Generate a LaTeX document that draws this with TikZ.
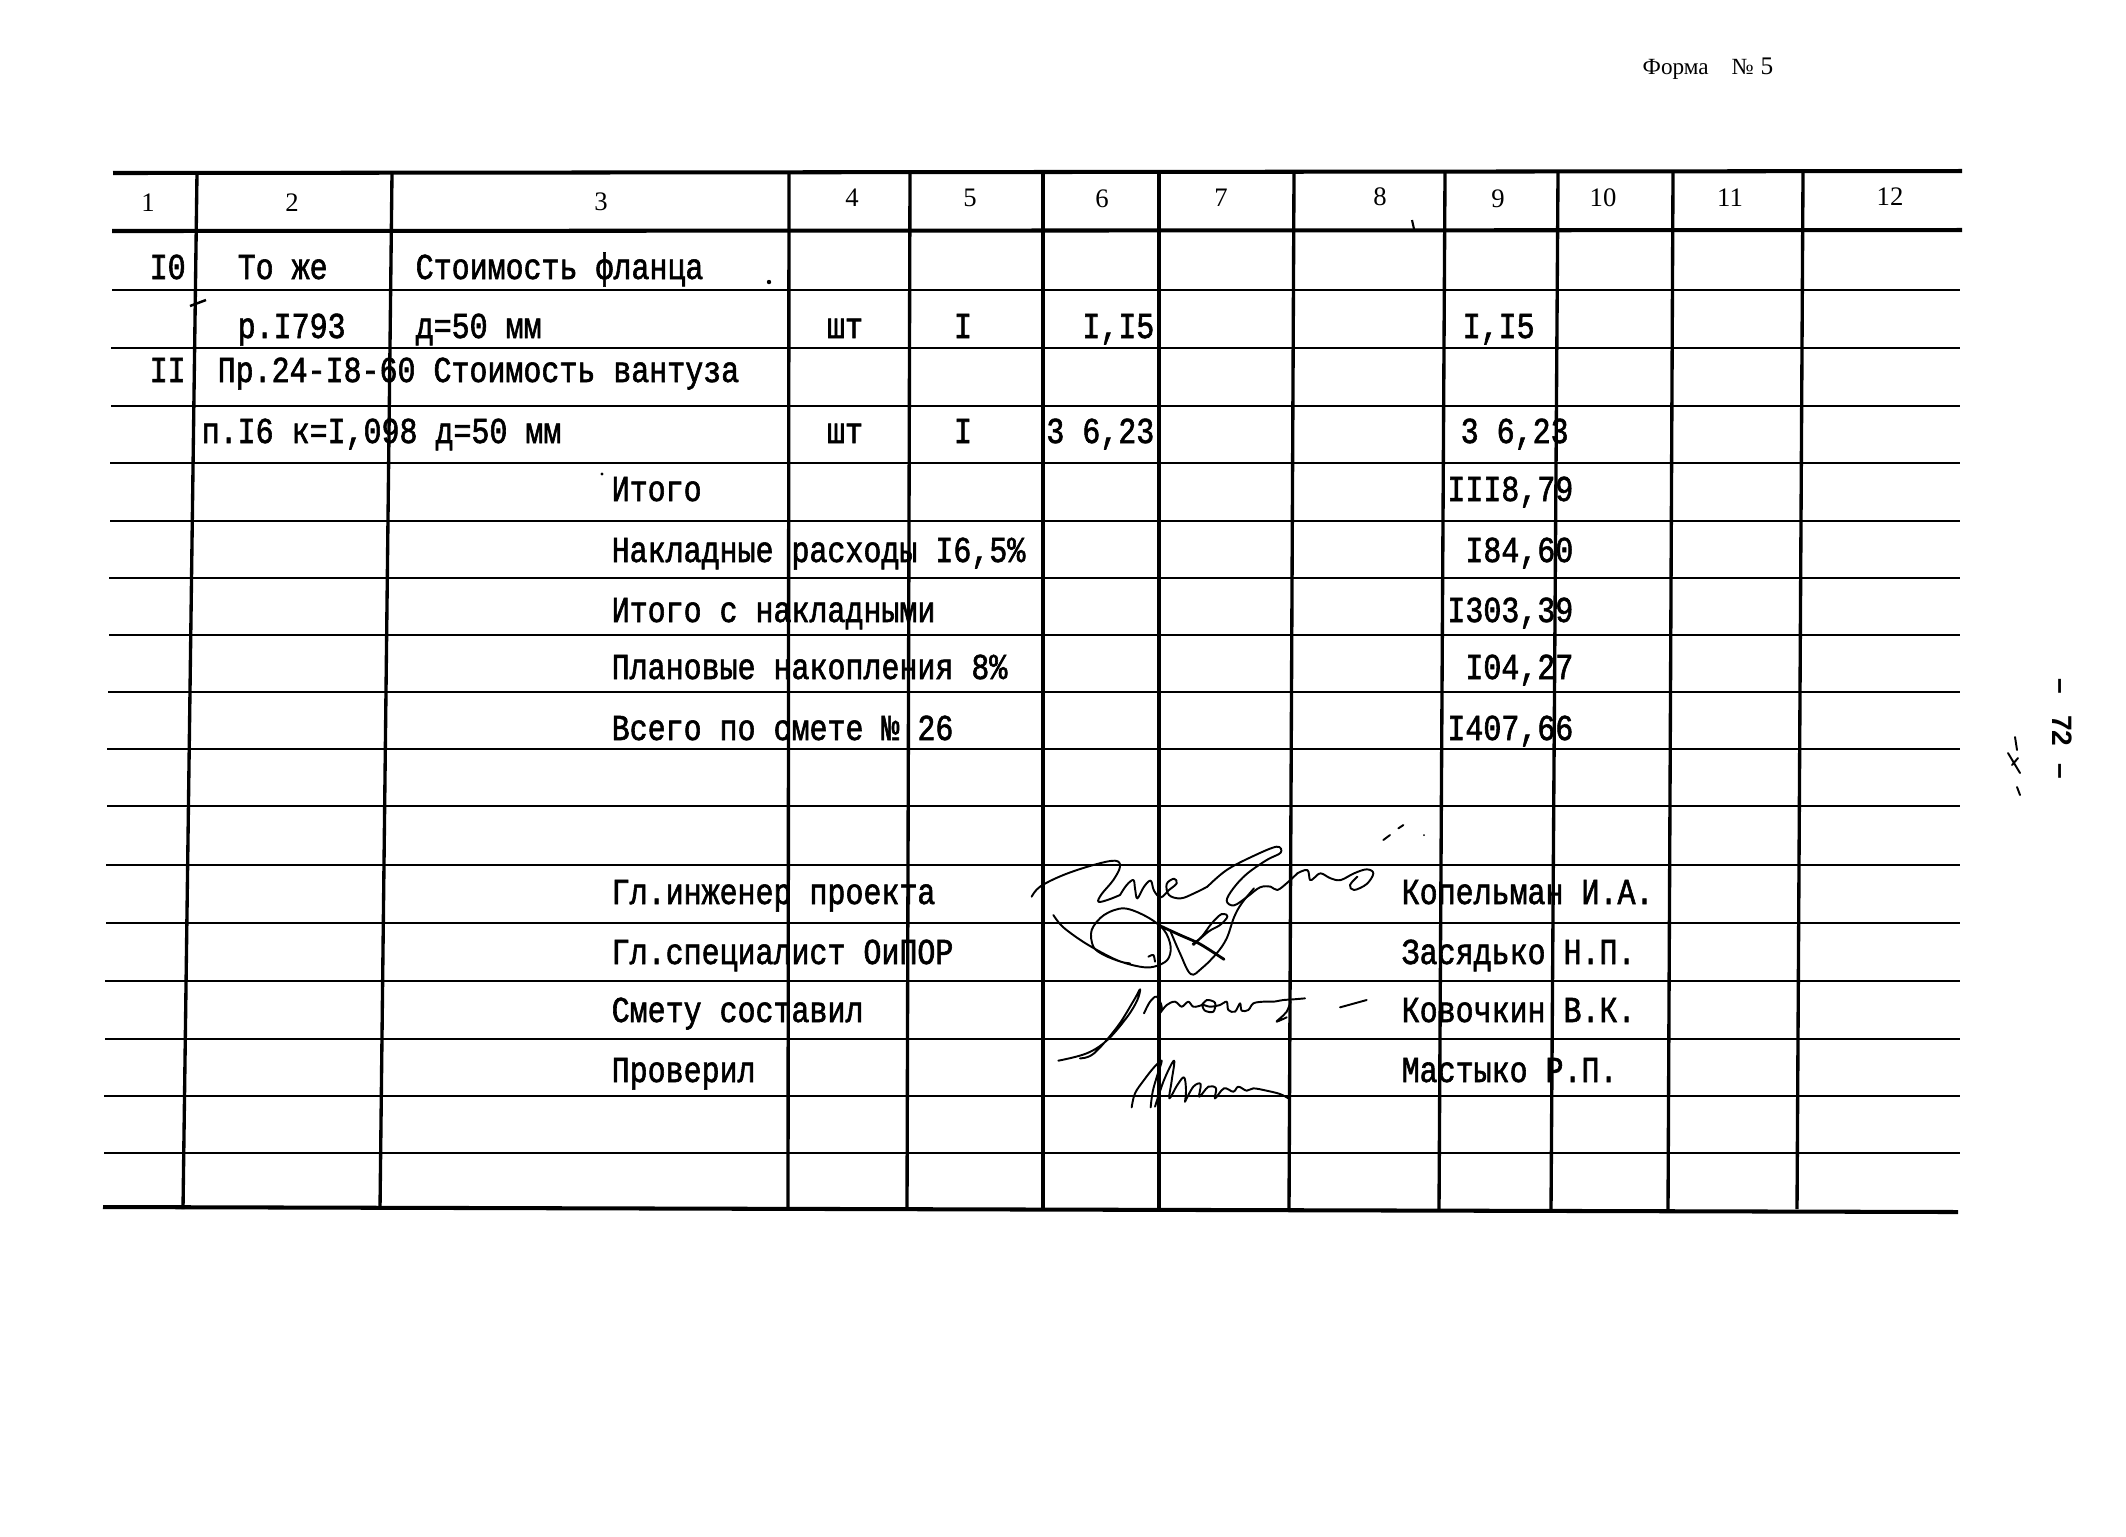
\documentclass[tikz,border=0pt]{standalone}
\usepackage{fontspec}
\setmainfont{Liberation Serif}
\newfontfamily\twfam[FakeStretch=0.82,FakeBold=1.6]{Liberation Mono}
\newfontfamily\pnfam{Liberation Sans}
\newcommand\twfont{\twfam\fontsize{10.4pt}{12pt}\selectfont}
\newcommand\hdfont{\fontsize{7.6pt}{8pt}\selectfont}
\begin{document}
\begin{tikzpicture}[x=0.1mm,y=-0.1mm,
  hrule/.style={line width=0.72pt},
  hrulethick/.style={line width=1.15pt},
  vrule/.style={line width=0.95pt},
  tw/.style={font=\twfont, inner sep=0pt, anchor=base west},
  twr/.style={tw, anchor=base east},
  twc/.style={tw, anchor=base},
  hd/.style={font=\hdfont, inner sep=0pt, anchor=base},
  sig/.style={line width=0.55pt, line cap=round, line join=round}]
\useasboundingbox[fill=white] (0,0) rectangle (2126,1536);

% horizontal rules
\draw[hrulethick] (113,173) -- (1962,171);
\draw[hrulethick] (112,231) -- (1962,230);
\foreach \yy/\xl in {290/112,348/111,406/111,463/110,521/110,578/109,635/109,692/108,749/107,806/107,865/106,923/106,981/105,1039/105,1096/104,1153/104}
  \draw[hrule] (\xl,\yy) -- (1960,\yy);
\draw[hrulethick] (103,1207) -- (1958,1212);

% vertical rules
\foreach \xt/\xb in {197/183,392/380,789/788,910/907,1043/1043,1159/1159,1294/1289,1445/1439,1558/1551,1673/1668,1803/1797}
  \draw[vrule] (\xt,173) -- (\xb,1209);

% header numbers
\node[hd] (h1) at (148,211) {1};
\node[hd] (h2) at (292,211) {2};
\node[hd] (h3) at (601,210) {3};
\node[hd] (h4) at (852,206) {4};
\node[hd] (h5) at (970,206) {5};
\node[hd] (h6) at (1102,207) {6};
\node[hd] (h7) at (1221,206) {7};
\node[hd] (h8) at (1380,205) {8};
\node[hd] (h9) at (1498,207) {9};
\node[hd] (h10) at (1603,206) {10};
\node[hd] (h11) at (1730,206) {11};
\node[hd] (h12) at (1890,205) {12};
\draw[line width=0.6pt] (1412,220) -- (1414,229);

% title
\node[font=\fontsize{6.6pt}{8pt}\selectfont, inner sep=0pt, anchor=base west] (forma) at (1642,74) {Форма};
\node[font=\fontsize{6.6pt}{8pt}\selectfont, inner sep=0pt, anchor=base west] (nosign) at (1731,74) {№};
\node[font=\fontsize{7.2pt}{8pt}\selectfont, inner sep=0pt, anchor=base west] (fnum) at (1760,74) {5};

% rows
\node[tw] (r1a) at (149,279) {I0};
\node[tw] (r1b) at (237,279) {То же};
\node[tw] (r1c) at (415,279) {Стоимость фланца};
\fill (769,282) circle (2.2);
\draw[line width=0.7pt] (190,306) -- (206,300);

\node[tw] (r2b) at (237,338) {р.I793};
\node[tw] (r2c) at (415,338) {д=50 мм};
\node[twc] (r2d) at (845,338) {шт};
\node[twc] (r2e) at (963,338) {I};
\node[twr] (r2f) at (1155,338) {I,I5};
\node[tw] (r2g) at (1462,338) {I,I5};

\node[tw] (r3a) at (149,382) {II};
\node[tw] (r3b) at (217,382) {Пр.24-I8-60 Стоимость вантуза};

\node[tw] (r4b) at (201,443) {п.I6 к=I,098 д=50 мм};
\node[twc] (r4d) at (845,443) {шт};
\node[twc] (r4e) at (963,443) {I};
\node[twr] (r4f) at (1155,443) {3 6,23};
\node[tw] (r4g) at (1460,443) {3 6,23};

\fill (602,474) circle (1.6);
\node[tw] (s1) at (611,501) {Итого};
\node[twr] (s1v) at (1574,501) {III8,79};
\node[tw] (s2) at (611,562) {Накладные расходы I6,5\%};
\node[twr] (s2v) at (1574,562) {I84,60};
\node[tw] (s3) at (611,622) {Итого с накладными};
\node[twr] (s3v) at (1574,622) {I303,39};
\node[tw] (s4) at (611,679) {Плановые накопления 8\%};
\node[twr] (s4v) at (1574,679) {I04,27};
\node[tw] (s5) at (611,740) {Всего по смете № 26};
\node[twr] (s5v) at (1574,740) {I407,66};

% signature rows
\node[tw] (p1) at (611,904) {Гл.инженер проекта};
\node[tw] (n1) at (1401,904) {Копельман И.А.};
\node[tw] (p2) at (611,964) {Гл.специалист ОиПОР};
\node[tw] (n2) at (1401,964) {Засядько Н.П.};
\node[tw] (p3) at (611,1022) {Смету составил};
\node[tw] (n3) at (1401,1022) {Ковочкин В.К.};
\node[tw] (p4) at (611,1082) {Проверил};
\node[tw] (n4) at (1401,1082) {Мастыко Р.П.};

% signatures (hand-drawn)
\begin{scope}[shift={(1020,820)}, scale=1/3]
  \draw[sig] plot[smooth, tension=0.6] coordinates {(35,230) (60,200) (130,165) (220,135) (285,122) (300,140) (280,180) (245,222) (235,245) (262,240) (300,225)};
  \draw[sig] plot[smooth, tension=0.6] coordinates {(300,225) (320,195) (340,180) (345,205) (352,235) (372,200) (392,182) (402,212) (422,232) (447,210) (470,190) (462,176) (440,192) (447,225) (482,235) (522,220) (562,200)};
  \draw[sig] plot[smooth, tension=0.6] coordinates {(562,200) (620,150) (700,108) (770,80) (782,98) (740,120) (680,162) (640,205) (620,242) (642,256) (682,230) (720,202) (752,200) (772,210) (802,188) (832,160)};
  \draw[sig] plot[smooth, tension=0.6] coordinates {(832,160) (862,150) (870,180) (882,174) (902,160) (932,175) (962,180) (1002,160) (1040,148) (1060,160) (1040,192) (1002,210) (990,195) (1012,170)};
  \draw[sig] plot[smooth, tension=0.55] coordinates {(100,285) (130,322) (200,372) (290,420) (360,440) (402,440) (442,420) (452,380) (432,330) (380,290) (312,265) (252,285) (215,330) (220,380) (252,405) (302,425) (330,430)};
  \draw[sig] plot[smooth, tension=0.5] coordinates {(385,410) (400,405) (405,425)};
  \draw[sig, line width=0.8pt] plot[smooth, tension=0.5] coordinates {(415,315) (480,345) (540,372) (612,418)};
  \draw[sig] plot[smooth, tension=0.6] coordinates {(452,335) (480,400) (512,462) (545,445) (590,400) (620,355) (642,292) (665,250) (702,205)};
  \draw[sig] plot[smooth, tension=0.6] coordinates {(520,375) (565,335) (600,315) (622,290) (605,282) (575,310) (545,350) (518,372)};
  \draw[sig] (1090,60) -- (1110,45);
  \draw[sig] (1135,25) -- (1150,15);
  \fill (1212,45) circle (3);
  % second signature
  \draw[sig] plot[smooth, tension=0.6] coordinates {(115,722) (200,700) (262,660) (322,590) (352,540) (360,508) (342,540) (292,620) (222,700) (180,715)};
  \draw[sig] plot[smooth, tension=0.55] coordinates {(372,580) (390,545) (410,530) (425,560) (415,585) (440,555) (465,545) (485,560) (505,545) (520,560) (545,555) (560,540) (585,548) (580,575) (555,572) (548,555) (570,560) (600,555) (620,545) (625,570) (645,575) (660,550) (665,572) (685,570) (700,550) (730,545) (760,545) (790,540) (820,538) (855,535)};
  \draw[sig] plot[smooth, tension=0.6] coordinates {(812,545) (800,575) (780,595) (770,605) (800,592)};
  \draw[sig] (960,562) -- (1040,540);
  % third signature
  \draw[sig] plot[smooth, tension=0.6] coordinates {(335,862) (345,820) (372,780) (402,742) (425,722) (412,765) (398,815) (392,862)};
  \draw[sig] plot[smooth, tension=0.6] coordinates {(405,860) (432,780) (462,722) (455,782) (448,835) (472,795) (492,772) (498,810) (495,845)};
  \draw[sig] plot[smooth, tension=0.6] coordinates {(495,845) (520,800) (542,792) (538,830) (565,800) (588,805) (585,835) (612,805) (640,815) (655,800) (680,812) (700,805) (740,812) (780,822) (805,835)};
\end{scope}

% page number (rotated) and handwritten mark
\node[font=\pnfam\fontsize{8pt}{9pt}\selectfont\bfseries, rotate=-90, inner sep=0pt] (pageno) at (2062,729) {–\hspace{6pt}72\hspace{5pt}–};
\draw[sig] (2015,737) -- (2017,750);
\draw[sig] (2008,753) -- (2020,773);
\draw[sig] (2012,765) -- (2018,758);
\draw[sig] (2017,787) -- (2020,795);
\end{tikzpicture}
\end{document}
